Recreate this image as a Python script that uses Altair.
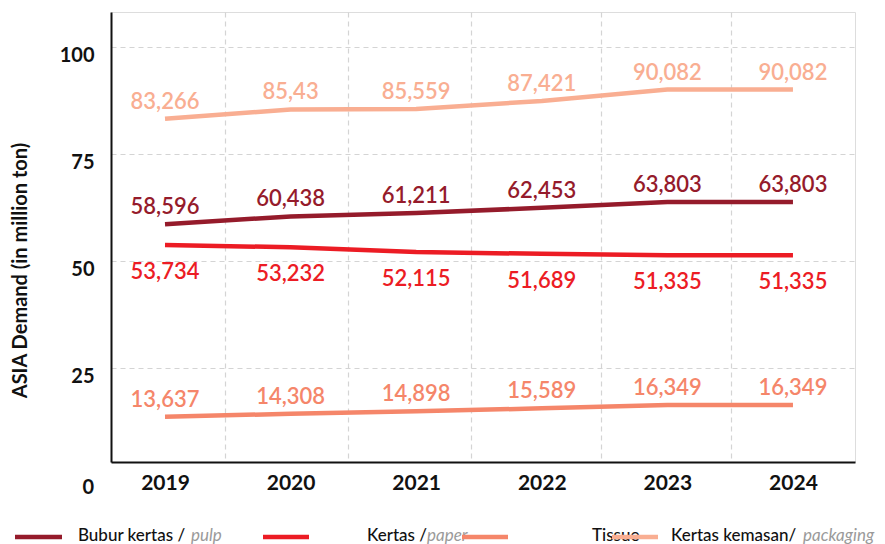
import altair as alt
import pandas as pd

# ---- data ----
YEARS = [2019, 2020, 2021, 2022, 2023, 2024]
SERIES = ["Bubur kertas / pulp", "Kertas / paper", "Tissue", "Kertas kemasan/ packaging"]
PULP = [58.596, 60.438, 61.211, 62.453, 63.803, 63.803]
PAPER = [53.734, 53.232, 52.115, 51.689, 51.335, 51.335]
TISSUE = [13.637, 14.308, 14.898, 15.589, 16.349, 16.349]
PACKAGING = [83.266, 85.43, 85.559, 87.421, 90.082, 90.082]
Y_TICKS = [25, 50, 75, 100]
X_GRID = [2019.48, 2020.46, 2021.44, 2022.47, 2023.51]
ZERO_LABEL = [0]

# legend texts: (main, italic)
LEGEND_MAIN = ["Bubur kertas /", "Kertas /", "Tissue", "Kertas kemasan/"]
LEGEND_ITAL = ["pulp", "paper", "", "packaging"]

# ---- styles ----
COLORS = ["#951b2b", "#ec1c24", "#f5866a", "#f9ae92"]
FONT = "Lato"
X_DOMAIN = [2018.57, 2024.494]
Y_DOMAIN = [3.05, 108.2]

rows = []
for name, vals in zip(SERIES, [PULP, PAPER, TISSUE, PACKAGING]):
    for yr, v in zip(YEARS, vals):
        rows.append({"year": yr, "value": v, "series": name})
df = pd.DataFrame(rows)

xs = alt.Scale(domain=X_DOMAIN, nice=False, zero=False)
ys = alt.Scale(domain=Y_DOMAIN, nice=False, zero=False)
color = alt.Color("series:N", scale=alt.Scale(domain=SERIES, range=COLORS), legend=None)

base = alt.Chart(df)

lines = base.mark_line(strokeWidth=4.5).encode(
    x=alt.X("year:Q", scale=xs, axis=alt.Axis(
        values=YEARS, format="d", grid=False, ticks=False, title=None, orient="bottom",
        labelFont=FONT, labelFontSize=21, labelFontWeight="bold", labelColor="#111111",
        labelPadding=10, domainColor="#111111", domainWidth=2)),
    y=alt.Y("value:Q", scale=ys, axis=alt.Axis(
        values=Y_TICKS, grid=True, gridDash=[5, 4], gridColor="#d4d4d4", gridWidth=1.2,
        ticks=False, domainColor="#111111", domainWidth=2,
        labelFont=FONT, labelFontSize=20, labelFontWeight="bold", labelColor="#111111",
        labelPadding=17, labelOffset=8,
        title="ASIA Demand (in million ton)", titleFont=FONT, titleFontSize=20,
        titleFontWeight="bold", titleColor="#111111", titleAngle=270,
        titleX=-91, titleY=258, titleAlign="center", titleBaseline="middle")),
    color=color,
    detail="series:N",
)

xgrid = base.mark_point(opacity=0).encode(
    x=alt.X("year:Q", scale=xs, axis=alt.Axis(
        values=X_GRID, grid=True, gridDash=[5, 4], gridColor="#d4d4d4", gridWidth=1.2,
        labels=False, ticks=False, domain=False, title=None, orient="bottom")),
    y=alt.Y("value:Q", scale=ys),
)

label_expr = "replace(toString(datum.value), '.', ',')"

labels_above = base.transform_filter(
    alt.datum.series != SERIES[1]
).transform_calculate(label=label_expr).mark_text(
    font=FONT, fontSize=22, fontWeight=600, dy=-17, baseline="middle", align="center"
).encode(
    x=alt.X("year:Q", scale=xs, axis=None), y=alt.Y("value:Q", scale=ys),
    text="label:N", color=color
)

labels_below = base.transform_filter(
    alt.datum.series == SERIES[1]
).transform_calculate(label=label_expr).mark_text(
    font=FONT, fontSize=22, fontWeight=600, dy=27, baseline="middle", align="center"
).encode(
    x=alt.X("year:Q", scale=xs, axis=None), y=alt.Y("value:Q", scale=ys),
    text="label:N", color=color
)

zero = alt.Chart(pd.DataFrame({"v": ZERO_LABEL})).transform_calculate(
    t="toString(datum.v)"
).mark_text(
    font=FONT, fontSize=20, fontWeight="bold", color="#111111", align="right",
    baseline="middle", dy=13
).encode(
    x=alt.value(-17), y=alt.Y("v:Q", scale=ys), text="t:N"
)

# custom legend (layout constants)
LEG_SYM_X = [(-96, -49), (152, 198), (351, 397), (501, 547)]
LEG_MAIN_X = [-33, 256, 481, 560]
LEG_ITAL_X = [80, 316, None, 692]
LEG_Y = 524

legend_layers = []
for i in range(4):
    legend_layers.append(
        alt.Chart(pd.DataFrame({"t": [LEGEND_MAIN[i]]})).mark_text(
            font=FONT, fontSize=17, fontWeight=500, color="#111111",
            align="left", baseline="middle"
        ).encode(x=alt.value(LEG_MAIN_X[i]), y=alt.value(LEG_Y), text="t:N")
    )
    if LEGEND_ITAL[i]:
        legend_layers.append(
            alt.Chart(pd.DataFrame({"t": [LEGEND_ITAL[i]]})).mark_text(
                font=FONT, fontSize=17, fontStyle="italic", color="#9a9a9a",
                align="left", baseline="middle"
            ).encode(x=alt.value(LEG_ITAL_X[i]), y=alt.value(LEG_Y), text="t:N")
        )
for i in range(4):
    legend_layers.append(
        alt.Chart(pd.DataFrame({"s": [SERIES[i]]})).mark_rule(
            strokeWidth=4.5, color=COLORS[i]
        ).encode(x=alt.value(LEG_SYM_X[i][0]), x2=alt.value(LEG_SYM_X[i][1]),
                 y=alt.value(LEG_Y + 1))
    )

chart = alt.layer(
    xgrid, lines, labels_above, labels_below, zero, *legend_layers
).resolve_axis(x="independent").resolve_scale(color="shared").properties(
    width=744, height=450,
    autosize=alt.AutoSizeParams(type="none"),
    padding={"left": 103, "top": 4, "right": 22, "bottom": 88},
).configure_view(stroke=None).configure(background="white")

chart.save("out.html", embed_options={"renderer": "svg", "actions": False})
